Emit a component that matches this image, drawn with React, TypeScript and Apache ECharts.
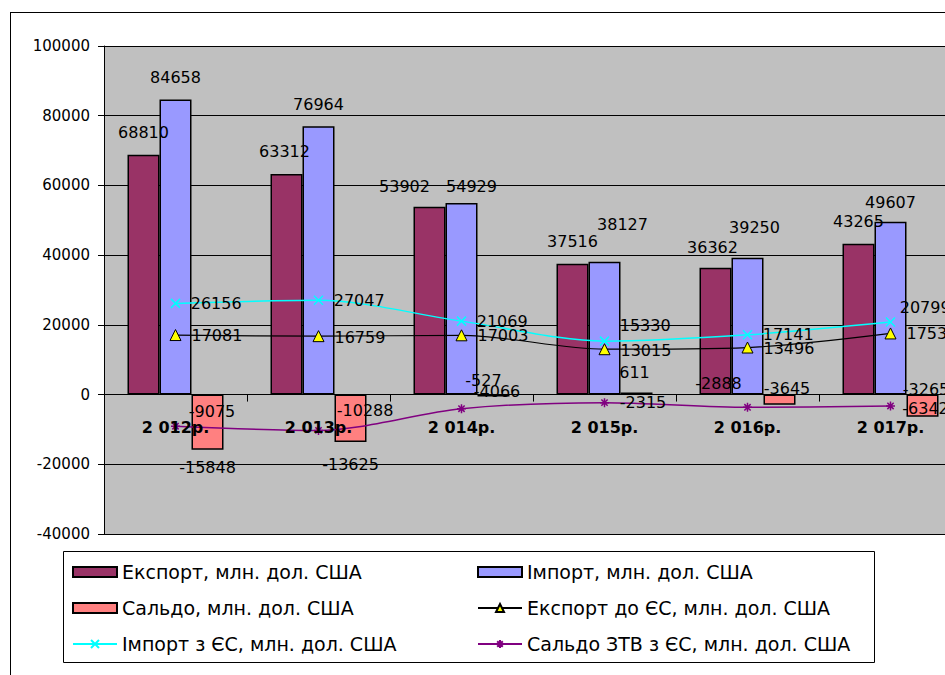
import React, { useEffect, useRef } from "react";
import * as echarts from "echarts";

// ---- data ----
const categories = ["2 012р.", "2 013р.", "2 014р.", "2 015р.", "2 016р.", "2 017р."];
const exportTotal = [68810, 63312, 53902, 37516, 36362, 43265];
const importTotal = [84658, 76964, 54929, 38127, 39250, 49607];
const balance = [-15848, -13625, -527, 611, -2888, -6342];
const exportEU = [17081, 16759, 17003, 13015, 13496, 17534];
const importEU = [26156, 27047, 21069, 15330, 17141, 20799];
const balanceEU = [-9075, -10288, -4066, -2315, -3645, -3265];
const yMin = -40000;
const yMax = 100000;
const yStep = 20000;

const names = {
  exp: "Експорт, млн. дол. США",
  imp: "Імпорт, млн. дол. США",
  bal: "Сальдо, млн. дол. США",
  expEU: "Експорт до ЄС, млн. дол. США",
  impEU: "Імпорт з ЄС, млн. дол. США",
  balEU: "Сальдо ЗТВ з ЄС, млн. дол. США",
};

// ---- label nudges (layout only) ----
const exportLabelShift = [[0, 0], [-2, 0], [-25, 2], [0, 0], [-3, 2], [0, 0]];
const importLabelShift = [[0, 0], [0, 0], [10, 5], [18, -15], [7, -8], [0, 3]];
const balanceLabelPlace = ["bottom", "bottom", "top", "top", "top", "inside"];
const balanceLabelShift = [[0, -4], [0, 0], [-10, 8], [-2, 2], [-61, 11], [3, 3]];
const importEULabelShift = [[0, 0], [0, 0], [0, 0], [0, -16], [0, 0], [-6, -15]];
const exportEULabelShift = [[0, 0], [0, 1], [0, 0], [0, 1], [0, 1], [0, 0]];
const balanceEULabelShift = [[-2, -15], [3, -20], [-3, -17], [0, 0], [1, -19], [-3, -16]];

const FONT = "DejaVu Sans";

function items(vals: number[], shifts: number[][], places?: string[]) {
  return vals.map((v, i) => {
    const label: any = { offset: shifts[i] };
    if (places) label.position = places[i];
    return { value: v, label };
  });
}

const labelBase = {
  show: true,
  color: "#000",
  fontFamily: FONT,
  fontSize: 16,
  lineHeight: 16,
};

const GRID_TOP = 46;
const GRID_H = 488;

export default function App() {
  const ref = useRef<HTMLDivElement>(null);

  useEffect(() => {
    document.body.style.margin = "0";
    document.body.style.overflow = "hidden";
    document.documentElement.style.overflow = "hidden";
    if (!ref.current) return;
    const chart = echarts.init(ref.current, undefined, { renderer: "svg" });

    const crossSym = "path://M0,0L10,10M10,0L0,10";
    const starSym = "path://M5,0L5,10M0,5L10,5M1.5,1.5L8.5,8.5M8.5,1.5L1.5,8.5";

    const legendText = { color: "#000", fontFamily: FONT, fontSize: 19, lineHeight: 20 };
    // distance from grid bottom up to the zero line, so the category labels sit under y = 0
    const zeroLift = (GRID_H * (0 - yMin)) / (yMax - yMin);

    const option: any = {
      animation: false,
      textStyle: { fontFamily: FONT },
      grid: {
        left: 104,
        top: GRID_TOP,
        width: 858,
        height: GRID_H,
        show: true,
        backgroundColor: "#C0C0C0",
        borderWidth: 0,
      },
      graphic: [
        {
          type: "rect",
          z: 1,
          shape: { x: 63.5, y: 551.5, width: 811, height: 111 },
          style: { fill: "#fff", stroke: "#000", lineWidth: 1 },
        },
      ],
      legend: [
        {
          left: 72,
          top: 562,
          orient: "vertical",
          padding: 0,
          itemGap: 16,
          itemWidth: 44,
          itemHeight: 10,
          selectedMode: false,
          z: 10,
          textStyle: legendText,
          data: [
            { name: names.exp, icon: "rect" },
            { name: names.bal, icon: "rect" },
            { name: names.impEU },
          ],
        },
        {
          left: 477,
          top: 562,
          orient: "vertical",
          padding: 0,
          itemGap: 16,
          itemWidth: 44,
          itemHeight: 10,
          selectedMode: false,
          z: 10,
          textStyle: legendText,
          data: [
            { name: names.imp, icon: "rect" },
            { name: names.expEU },
            { name: names.balEU },
          ],
        },
      ],
      xAxis: [
        {
          type: "category",
          data: categories,
          z: 10,
          axisLine: { onZero: true, lineStyle: { color: "#000", width: 1 } },
          axisTick: { show: true, length: 7, interval: 0, lineStyle: { color: "#000" } },
          axisLabel: { show: false },
          splitLine: { show: false },
        },
        {
          type: "category",
          data: categories,
          position: "bottom",
          offset: -zeroLift,
          z: 12,
          axisLine: { show: false, onZero: false },
          axisTick: { show: false },
          axisLabel: {
            color: "#000",
            fontFamily: FONT,
            fontWeight: "bold",
            fontSize: 16,
            lineHeight: 16,
            margin: 25,
            interval: 0,
          },
          splitLine: { show: false },
        },
      ],
      yAxis: {
        type: "value",
        min: yMin,
        max: yMax,
        interval: yStep,
        axisLine: { show: true, lineStyle: { color: "#000", width: 1 } },
        axisTick: { show: true, length: 6, lineStyle: { color: "#000" } },
        axisLabel: {
          color: "#000",
          fontFamily: FONT,
          fontSize: 15,
          margin: 14,
          formatter: (v: number) => String(v),
        },
        splitLine: { show: true, lineStyle: { color: "#000", width: 1 } },
      },
      series: [
        {
          name: names.exp,
          type: "bar",
          barWidth: 32,
          barGap: "0%",
          itemStyle: { color: "#993366", borderColor: "#000", borderWidth: 1.5 },
          label: { ...labelBase, position: "top", distance: 14 },
          data: items(exportTotal, exportLabelShift),
        },
        {
          name: names.imp,
          type: "bar",
          barWidth: 32,
          barGap: "0%",
          itemStyle: { color: "#9999FF", borderColor: "#000", borderWidth: 1.5 },
          label: { ...labelBase, position: "top", distance: 14 },
          data: items(importTotal, importLabelShift),
        },
        {
          name: names.bal,
          type: "bar",
          barWidth: 32,
          barGap: "0%",
          itemStyle: { color: "#FF8080", borderColor: "#000", borderWidth: 1.5 },
          label: { ...labelBase, position: "bottom", distance: 14 },
          data: items(balance, balanceLabelShift, balanceLabelPlace),
        },
        {
          name: names.expEU,
          type: "line",
          smooth: 0.3,
          symbol: "triangle",
          symbolSize: 11,
          lineStyle: { color: "#000", width: 1.2 },
          itemStyle: { color: "#FFFF00", borderColor: "#000", borderWidth: 1 },
          label: { ...labelBase, position: "right", distance: 10 },
          data: items(exportEU, exportEULabelShift),
          z: 5,
        },
        {
          name: names.impEU,
          type: "line",
          smooth: 0.3,
          symbol: crossSym,
          symbolSize: 9,
          lineStyle: { color: "#00FFFF", width: 1.5 },
          itemStyle: { color: "#00FFFF", borderColor: "#00FFFF", borderWidth: 1.5 },
          label: { ...labelBase, position: "right", distance: 10 },
          data: items(importEU, importEULabelShift),
          z: 5,
        },
        {
          name: names.balEU,
          type: "line",
          smooth: 0.3,
          symbol: starSym,
          symbolSize: 9,
          lineStyle: { color: "#800080", width: 1.5 },
          itemStyle: { color: "#800080", borderColor: "#800080", borderWidth: 1.5 },
          label: { ...labelBase, position: "right", distance: 10 },
          data: items(balanceEU, balanceEULabelShift),
          z: 5,
        },
      ],
    };

    chart.setOption(option);
    return () => {
      chart.dispose();
    };
  }, []);

  return (
    <div style={{ position: "relative", width: 945, height: 675, overflow: "hidden", background: "#fff" }}>
      <div
        style={{
          position: "absolute",
          left: 10,
          top: 12,
          width: 1000,
          height: 700,
          border: "1px solid #000",
          boxSizing: "border-box",
        }}
      />
      <div ref={ref} style={{ position: "absolute", left: 0, top: 0, width: 1000, height: 700 }} />
    </div>
  );
}
